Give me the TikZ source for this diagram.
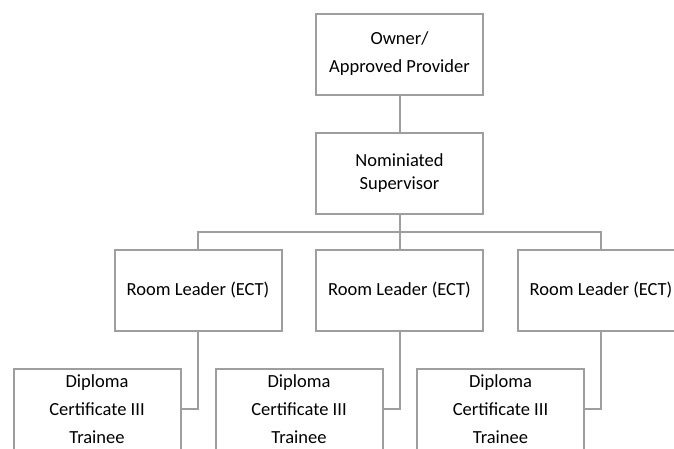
\documentclass[tikz,border=0pt]{standalone}
\usepackage{fontspec}
\setmainfont{Carlito}
\definecolor{linegray}{RGB}{158,158,158}
\tikzset{
  orgbox/.style={draw=linegray, line width=2pt, fill=white, minimum width=167pt, minimum height=81pt,
    inner sep=0pt, align=center, font=\fontsize{18.5}{28}\selectfont},
  tightbox/.style={orgbox, font=\fontsize{18.5}{23.5}\selectfont},
  link/.style={draw=linegray, line width=2pt}
}
\begin{document}
\begin{tikzpicture}[x=1pt,y=-1pt]
\useasboundingbox (0,0) rectangle (674,448);
\clip (0,0) rectangle (674,448);
\node[orgbox] (own) at (399.5,54) {Owner/\\Approved Provider};
\node[tightbox] (nom) at (399.5,173) {Nominiated\\Supervisor};
\node[orgbox] (r1) at (198,290) {Room Leader (ECT)};
\node[orgbox] (r2) at (399.5,290) {Room Leader (ECT)};
\node[orgbox] (r3) at (601,290) {Room Leader (ECT)};
\node[orgbox] (d1) at (97,409) {Diploma\\Certificate III\\Trainee};
\node[orgbox] (d2) at (299,409) {Diploma\\Certificate III\\Trainee};
\node[orgbox] (d3) at (500.5,409) {Diploma\\Certificate III\\Trainee};
\coordinate (bus) at (399.5,232);
\draw[link] (own.south) -- (nom.north);
\draw[link] (nom.south) -- (r2.north);
\draw[link] (r1.north) |- (bus) -| (r3.north);
\draw[link] (r1.south) |- (d1.east);
\draw[link] (r2.south) |- (d2.east);
\draw[link] (r3.south) |- (d3.east);
\end{tikzpicture}
\end{document}
